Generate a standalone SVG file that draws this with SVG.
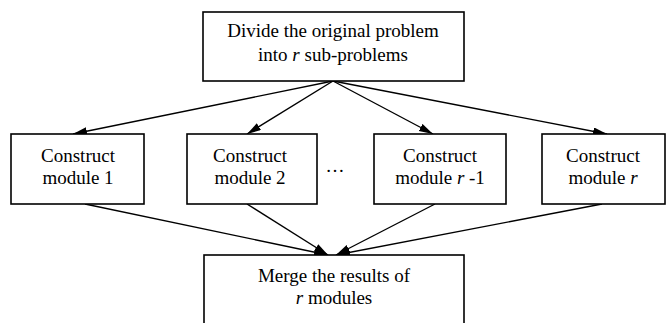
<svg xmlns="http://www.w3.org/2000/svg" width="666" height="323" viewBox="0 0 666 323">
  <style>
    .box { fill: #ffffff; stroke: #000000; stroke-width: 1.6; }
    .lbl { font-family: "Liberation Serif", "Times New Roman", serif; font-size: 19px; fill: #000000; text-anchor: middle; }
    .it { font-style: italic; }
    .edge { fill: none; stroke: #000000; stroke-width: 1.4; marker-end: url(#arrow); }
  </style>
  <defs>
    <marker id="arrow" markerUnits="userSpaceOnUse" markerWidth="15" markerHeight="9" refX="14" refY="4" orient="auto">
      <path d="M0,0 L14,4 L0,8 z" fill="#000000"/>
    </marker>
  </defs>
  <rect x="0" y="0" width="666" height="323" fill="#ffffff"/>

  <g id="connectors">
    <line class="edge" x1="333" y1="81" x2="73" y2="134"/>
    <line class="edge" x1="333" y1="81" x2="247" y2="134"/>
    <line class="edge" x1="333" y1="81" x2="433" y2="134"/>
    <line class="edge" x1="333" y1="81" x2="607" y2="134"/>
    <line class="edge" x1="85" y1="204" x2="328" y2="255"/>
    <line class="edge" x1="247" y1="204" x2="328" y2="255"/>
    <line class="edge" x1="435" y1="204" x2="336" y2="255"/>
    <line class="edge" x1="602" y1="204" x2="336" y2="255"/>
  </g>

  <g id="divide">
    <rect class="box" x="203" y="12" width="261" height="69"/>
    <text class="lbl" x="333" y="37">Divide the original problem</text>
    <text class="lbl" x="333" y="61">into <tspan class="it">r</tspan> sub-problems</text>
  </g>

  <g id="module1">
    <rect class="box" x="11" y="134" width="133" height="70"/>
    <text class="lbl" x="78" y="162">Construct</text>
    <text class="lbl" x="78" y="184">module 1</text>
  </g>

  <g id="module2">
    <rect class="box" x="187" y="134" width="130" height="70"/>
    <text class="lbl" x="250" y="162">Construct</text>
    <text class="lbl" x="250" y="184">module 2</text>
  </g>

  <g id="ellipsis">
    <text class="lbl" x="335" y="172">…</text>
  </g>

  <g id="module-r-1">
    <rect class="box" x="374" y="134" width="132" height="70"/>
    <text class="lbl" x="440" y="162">Construct</text>
    <text class="lbl" x="440" y="184">module <tspan class="it">r</tspan> -1</text>
  </g>

  <g id="module-r">
    <rect class="box" x="542" y="134" width="123" height="70"/>
    <text class="lbl" x="603" y="162">Construct</text>
    <text class="lbl" x="603" y="184">module <tspan class="it">r</tspan></text>
  </g>

  <g id="merge">
    <rect class="box" x="204" y="255" width="260" height="80"/>
    <text class="lbl" x="334" y="282">Merge the results of</text>
    <text class="lbl" x="334" y="304"><tspan class="it">r</tspan> modules</text>
  </g>
</svg>
